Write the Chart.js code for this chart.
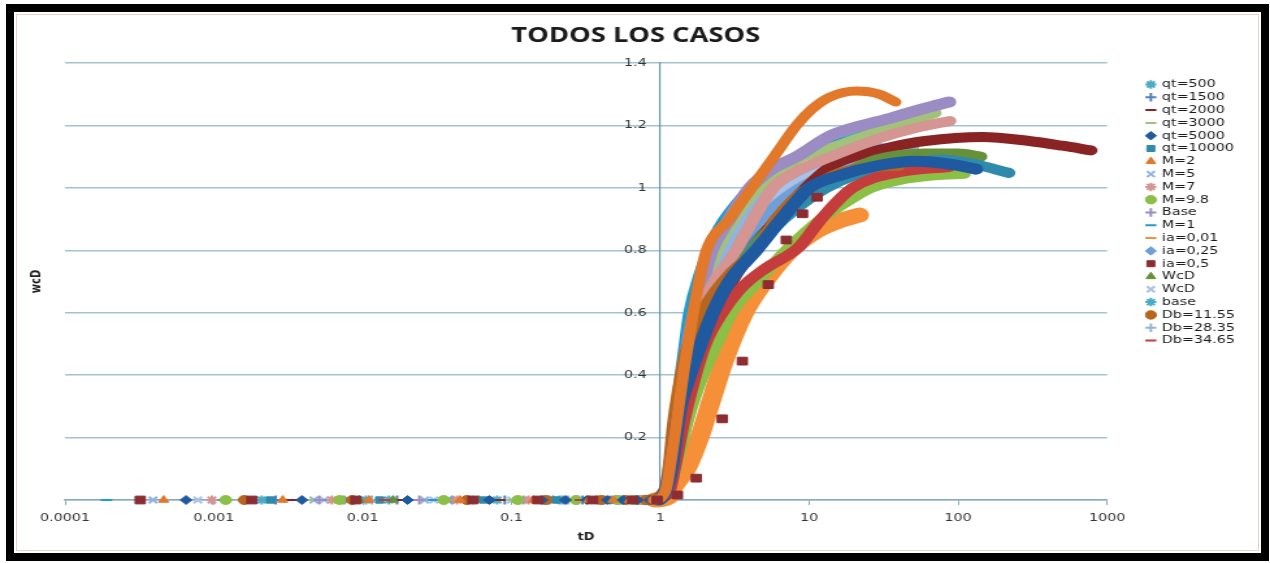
<!DOCTYPE html>
<html>
<head>
<meta charset="utf-8">
<title>TODOS LOS CASOS</title>
<script src="https://cdn.jsdelivr.net/npm/chart.js"></script>
<style>
  html, body { margin: 0; padding: 0; background: #fff; }
  #wrap { position: relative; width: 1270px; height: 563px; overflow: hidden; background: #fff; }
  /* the source picture is stretched sideways, so the canvas is too */
  #myChart { position: absolute; left: 0; top: 0; transform-origin: 0 0; transform: scaleX(1.29990); }
  .frame { position: absolute; left: 6px; top: 4px; width: 1263px; height: 557px; box-sizing: border-box;
           border: 8px solid #000; pointer-events: none; }
  .frame::after { content: ""; position: absolute; left: 2px; top: 2px; right: 2px; bottom: 2px;
                  border: 1px solid #e6d4ca; }
</style>
</head>
<body>
<div id="wrap">
  <canvas id="myChart" width="977" height="563"></canvas>
  <div class="frame"></div>
</div>
<script>
// series names, in legend order
var seriesLabels = [
  "qt=500", "qt=1500", "qt=2000", "qt=3000", "qt=5000", "qt=10000",
  "M=2", "M=5", "M=7", "M=9.8", "Base", "M=1",
  "ia=0,01", "ia=0,25", "ia=0,5", "WcD", "WcD", "base",
  "Db=11.55", "Db=28.35", "Db=34.65"
];

// tD of the points lying on wcD = 0 (one row per series)
var lowTd = [
  [0.0021, 0.015, 0.08, 0.22, 0.5, 0.74],
  [0.0026, 0.017, 0.09, 0.3, 0.52, 0.7],
  [0.0033, 0.018, 0.085, 0.26, 0.45, 0.6, 0.88],
  [0.0044, 0.022, 0.1, 0.36, 0.62, 0.78],
  [0.00065, 0.0039, 0.02, 0.071, 0.16, 0.23, 0.32, 0.44, 0.56, 0.7, 0.85, 0.97],
  [0.0024, 0.013, 0.065, 0.2, 0.45, 0.66, 0.9],
  [0.00046, 0.0029, 0.011, 0.045, 0.14, 0.33, 0.48, 0.62, 0.9],
  [0.00039, 0.0047, 0.026, 0.12, 0.3, 0.6, 0.82],
  [0.00097, 0.0062, 0.043, 0.13, 0.38, 0.54, 0.75],
  [0.0012, 0.007, 0.035, 0.11, 0.27, 0.52, 0.68, 0.88],
  [0.0051, 0.024, 0.12, 0.28, 0.42, 0.64, 0.85],
  [0.00019, 0.0011, 0.006, 0.03, 0.1, 0.25, 0.5, 0.8],
  [0.0068, 0.038, 0.15, 0.34, 0.48, 0.72, 0.92],
  [0.0075, 0.04, 0.18, 0.4, 0.58, 0.8],
  [0.00032, 0.0018, 0.009, 0.055, 0.15, 0.35, 0.65, 0.95],
  [0.0095, 0.016, 0.06, 0.19, 0.37, 0.5, 0.82],
  [0.00078, 0.0055, 0.03, 0.1, 0.28, 0.55, 0.77],
  [0.0105, 0.05, 0.21, 0.46, 0.65, 0.86],
  [0.0016, 0.0085, 0.05, 0.17, 0.4, 0.58, 0.8],
  [0.0115, 0.055, 0.24, 0.5, 0.72, 0.93],
  [0.014, 0.07, 0.29, 0.47, 0.68, 0.84]
];

// tD of the rising part of each curve
var riseTd = [
  [1.08, 1.18, 1.3, 1.44, 1.62, 1.9, 2.35, 3.2, 4.5, 7, 12, 20, 35, 60],
  [1.1, 1.2, 1.38, 1.62, 1.95, 2.5, 3.5, 5.5, 9, 15, 28, 50, 75],
  [1.14, 1.3, 1.5, 1.75, 2.1, 2.7, 4, 6, 9, 14, 20, 35, 60, 145, 300, 500, 780],
  [1.08, 1.18, 1.3, 1.46, 1.68, 2.0, 2.5, 3.2, 4.5, 6.5, 9, 14.3, 33, 70],
  [1.1, 1.2, 1.28, 1.36, 1.5, 1.8, 2.3, 3.0, 4.4, 6.5, 10, 16, 28, 52, 90, 132],
  [1.1, 1.21, 1.38, 1.64, 2, 2.6, 3.6, 5.5, 8.5, 13, 20, 40, 80, 130, 219],
  [1.08, 1.18, 1.3, 1.44, 1.62, 1.8, 2.04, 2.9, 4.1, 5.8, 8.2, 10.3, 13.6, 20.7, 29.5, 38],
  [1.1, 1.2, 1.35, 1.54, 1.78, 2.1, 2.8, 4, 6, 10, 18, 30],
  [1.1, 1.2, 1.35, 1.54, 1.82, 2.3, 3.04, 4.2, 5.7, 8, 14, 30, 55, 88],
  [1.15, 1.33, 1.62, 2.0, 2.5, 3, 4.6, 7, 12, 20, 26, 40, 70, 110],
  [1.08, 1.18, 1.3, 1.44, 1.64, 1.92, 2.2, 2.9, 4.0, 5.6, 8.2, 14.3, 33, 60, 87],
  [1.08, 1.17, 1.3, 1.42, 1.54, 1.8, 2.3, 3.2, 5, 8, 14, 25],
  [1.14, 1.22, 1.5, 1.83, 2.2, 2.7, 3.66, 5.1, 7.5, 11, 16, 21.7],
  [1.1, 1.2, 1.36, 1.58, 1.92, 2.4, 3.3, 5, 8, 13, 22, 40],
  [1.3, 1.74, 2.6, 3.55, 5.3, 7.0, 9.0, 11.3],
  [1.1, 1.21, 1.37, 1.58, 1.92, 2.5, 3.4, 5, 8, 12, 18, 28, 60, 100, 142],
  [1.1, 1.18, 1.32, 1.52, 1.82, 2.3, 3.2, 4.8, 8, 14, 25],
  [1.08, 1.17, 1.28, 1.44, 1.68, 2.0, 2.7, 3.8, 6, 10, 18, 30],
  [1.07, 1.14, 1.22, 1.32, 1.52, 2.0, 3.0, 4.4, 6, 8.6, 12, 16, 25, 40],
  [1.1, 1.2, 1.37, 1.58, 1.92, 2.4, 3.2, 4.5, 7, 11, 18, 30, 50],
  [1.13, 1.24, 1.43, 1.67, 2, 2.6, 3.5, 5, 8.5, 12, 19.5, 40, 87]
];

// wcD matching riseTd
var riseWcd = [
  [0.03, 0.13, 0.27, 0.42, 0.56, 0.69, 0.8, 0.92, 1.0, 1.08, 1.14, 1.18, 1.21, 1.23],
  [0.03, 0.13, 0.28, 0.43, 0.56, 0.68, 0.78, 0.88, 0.97, 1.03, 1.07, 1.09, 1.09],
  [0.03, 0.14, 0.3, 0.44, 0.56, 0.66, 0.79, 0.9, 0.99, 1.07, 1.1, 1.13, 1.15, 1.163, 1.15, 1.135, 1.12],
  [0.03, 0.14, 0.29, 0.44, 0.58, 0.71, 0.82, 0.91, 1.0, 1.06, 1.1, 1.13, 1.19, 1.24],
  [0.04, 0.12, 0.22, 0.3, 0.37, 0.48, 0.61, 0.71, 0.8, 0.9, 1.0, 1.04, 1.07, 1.085, 1.075, 1.06],
  [0.03, 0.12, 0.27, 0.43, 0.55, 0.66, 0.76, 0.86, 0.94, 1.0, 1.04, 1.075, 1.09, 1.075, 1.048],
  [0.03, 0.13, 0.27, 0.42, 0.57, 0.69, 0.8, 0.9, 1.0, 1.1, 1.2, 1.25, 1.29, 1.31, 1.3, 1.275],
  [0.03, 0.13, 0.29, 0.44, 0.57, 0.7, 0.82, 0.93, 1.01, 1.07, 1.11, 1.13],
  [0.03, 0.13, 0.29, 0.45, 0.59, 0.7, 0.78, 0.9, 1.0, 1.05, 1.1, 1.16, 1.195, 1.214],
  [0.04, 0.15, 0.3, 0.42, 0.52, 0.6, 0.705, 0.8, 0.9, 0.97, 1.0, 1.025, 1.04, 1.045],
  [0.03, 0.13, 0.27, 0.42, 0.57, 0.7, 0.8, 0.9, 1.0, 1.06, 1.1, 1.17, 1.22, 1.255, 1.275],
  [0.03, 0.14, 0.34, 0.48, 0.6, 0.72, 0.85, 0.95, 1.04, 1.1, 1.14, 1.16],
  [0.01, 0.04, 0.1, 0.2, 0.32, 0.45, 0.6, 0.705, 0.8, 0.86, 0.895, 0.913],
  [0.03, 0.13, 0.28, 0.44, 0.57, 0.69, 0.8, 0.91, 0.99, 1.04, 1.07, 1.08],
  [0.016, 0.07, 0.26, 0.445, 0.69, 0.833, 0.917, 0.97],
  [0.03, 0.13, 0.27, 0.41, 0.54, 0.65, 0.75, 0.85, 0.94, 1.0, 1.05, 1.09, 1.11, 1.11, 1.10],
  [0.03, 0.13, 0.29, 0.46, 0.6, 0.72, 0.84, 0.95, 1.03, 1.08, 1.1],
  [0.03, 0.12, 0.26, 0.43, 0.6, 0.72, 0.85, 0.96, 1.05, 1.12, 1.17, 1.2],
  [0.03, 0.1, 0.24, 0.35, 0.49, 0.62, 0.73, 0.8, 0.9, 0.98, 1.02, 1.048, 1.065, 1.07],
  [0.03, 0.13, 0.29, 0.44, 0.58, 0.7, 0.81, 0.91, 1.0, 1.06, 1.1, 1.12, 1.13],
  [0.02, 0.1, 0.25, 0.38, 0.5, 0.6, 0.68, 0.74, 0.81, 0.9, 1.0, 1.05, 1.067]
];

var xTickValues = [0.0001, 0.001, 0.01, 0.1, 1, 10, 100, 1000];
var xTickLabels = ["0.0001", "0.001", "0.01", "0.1", "1", "10", "100", "1000"];

// styles
var colors = [
  "#4bacc6", "#4f81bd", "#8a2424", "#a3c279", "#1f5aa0", "#2f8bab",
  "#e2782a", "#8eb4e3", "#d49593", "#8cbf45", "#9b8cc4", "#1e9bd0",
  "#f59038", "#6f9fd8", "#8c2d33", "#67903a", "#a9c2e6", "#4bacc6",
  "#b8651e", "#95b3d7", "#c43c3c"
];
var pointStyles = [
  "star", "cross", "line", "line", "rectRot", "rect",
  "triangle", "crossRot", "star", "circle", "cross", "line",
  "line", "rectRot", "rect", "triangle", "crossRot", "star",
  "circle", "cross", "line"
];
var lineWidths = [9, 9, 10, 10, 11, 10, 9, 9, 10, 10, 11, 8, 15, 9, 0, 10, 9, 9, 10, 9, 10];
var drawOrder = [6, 7, 8, 10, 19, 14, 20, 5, 12, 16, 11, 9, 15, 4, 21, 13, 3, 2, 18, 1, 17];
var strokedStyles = ["star", "cross", "crossRot", "line"];

Chart.defaults.font.family = "'DejaVu Sans', sans-serif";
Chart.defaults.color = "#333";

document.addEventListener("DOMContentLoaded", function () {
  var ctx = document.getElementById("myChart").getContext("2d");

  var datasets = seriesLabels.map(function (label, i) {
    var pts = lowTd[i].map(function (x) { return { x: x, y: 0 }; })
      .concat(riseTd[i].map(function (x, j) { return { x: x, y: riseWcd[i][j] }; }));
    var markersOnly = lineWidths[i] === 0;
    return {
      label: label,
      data: pts,
      borderColor: colors[i],
      backgroundColor: colors[i],
      borderWidth: lineWidths[i],
      showLine: !markersOnly,
      cubicInterpolationMode: "monotone",
      borderCapStyle: "round",
      borderJoinStyle: "round",
      pointStyle: pointStyles[i],
      pointBorderWidth: strokedStyles.indexOf(pointStyles[i]) >= 0 ? 2 : 1,
      pointRadius: markersOnly ? 5.5 : function (c) { return c.raw && c.raw.y === 0 ? 4.5 : 0; },
      pointHoverRadius: 0,
      clip: false,
      order: -drawOrder[i],
      segment: {
        borderColor: function (c) {
          return c.p0.parsed.y === 0 && c.p1.parsed.y === 0 ? "rgba(0,0,0,0)" : undefined;
        }
      }
    };
  });

  var axisColor = "#86acbd";

  var options = {
    responsive: false,
    animation: false,
    events: [],
    layout: { autoPadding: false, padding: { top: 23.4, left: 18, right: 17, bottom: 13 } },
    plugins: {
      tooltip: { enabled: false },
      title: {
        display: true,
        text: "TODOS LOS CASOS",
        color: "#1b1b1b",
        font: { family: "'Open Sans'", size: 21, weight: "bold" },
        padding: { top: 0, bottom: 14.4 }
      },
      legend: {
        position: "right",
        align: "start",
        fullSize: false,
        title: { display: true, text: " ", font: { size: 1 }, padding: { top: 13, bottom: 0 } },
        labels: {
          usePointStyle: true,
          boxWidth: 6,
          boxHeight: 6,
          padding: 1.8,
          color: "#1a1a1a",
          font: { size: 11 },
          sort: function (a, b) { return a.datasetIndex - b.datasetIndex; }
        }
      }
    },
    scales: {
      x: {
        type: "logarithmic",
        min: 0.0001,
        max: 1000,
        afterBuildTicks: function (s) {
          s.ticks = xTickValues.map(function (v) { return { value: v }; });
        },
        afterFit: function (s) { s.height = 50; },
        ticks: {
          autoSkip: false,
          maxRotation: 0,
          padding: 7,
          color: "#333",
          font: { size: 11 },
          callback: function (v, i) { return xTickLabels[i]; }
        },
        grid: { drawOnChartArea: false, drawTicks: true, tickLength: 5, color: axisColor, lineWidth: 1 },
        border: { color: axisColor, width: 1.5 },
        title: {
          display: true,
          text: "tD",
          color: "#222",
          font: { size: 10, weight: "bold" },
          padding: { top: 0, bottom: 7 }
        }
      },
      y: {
        type: "linear",
        position: { x: 1 },
        min: 0,
        max: 1.4,
        ticks: {
          stepSize: 0.2,
          color: "#333",
          font: { size: 11 },
          // labels of an axis placed at x = 1 sit flush on the line; keep a gap like the original
          callback: function (v) { return String(Math.round(v * 10) / 10) + "\u00a0\u00a0\u00a0"; }
        },
        grid: { color: "#a3c3d1", lineWidth: 1.5, drawTicks: false },
        border: { color: "#6c98ab", width: 1.2 }
      },
      yTitle: {
        type: "linear",
        position: "left",
        ticks: { display: false },
        grid: { display: false },
        border: { display: false },
        title: {
          display: true,
          text: "wcD",
          color: "#222",
          font: { size: 10, weight: "bold" },
          padding: { top: 4.5, bottom: 0 }
        },
        afterFit: function (s) { s.width = 32; }
      },
      yGap: {
        type: "linear",
        position: "right",
        ticks: { display: false },
        grid: { display: false },
        border: { display: false },
        afterFit: function (s) { s.width = 28.9; }
      }
    }
  };

  var myChart = new Chart(ctx, {
    type: "line",
    data: { datasets: datasets },
    options: options
  });
});
</script>
</body>
</html>
